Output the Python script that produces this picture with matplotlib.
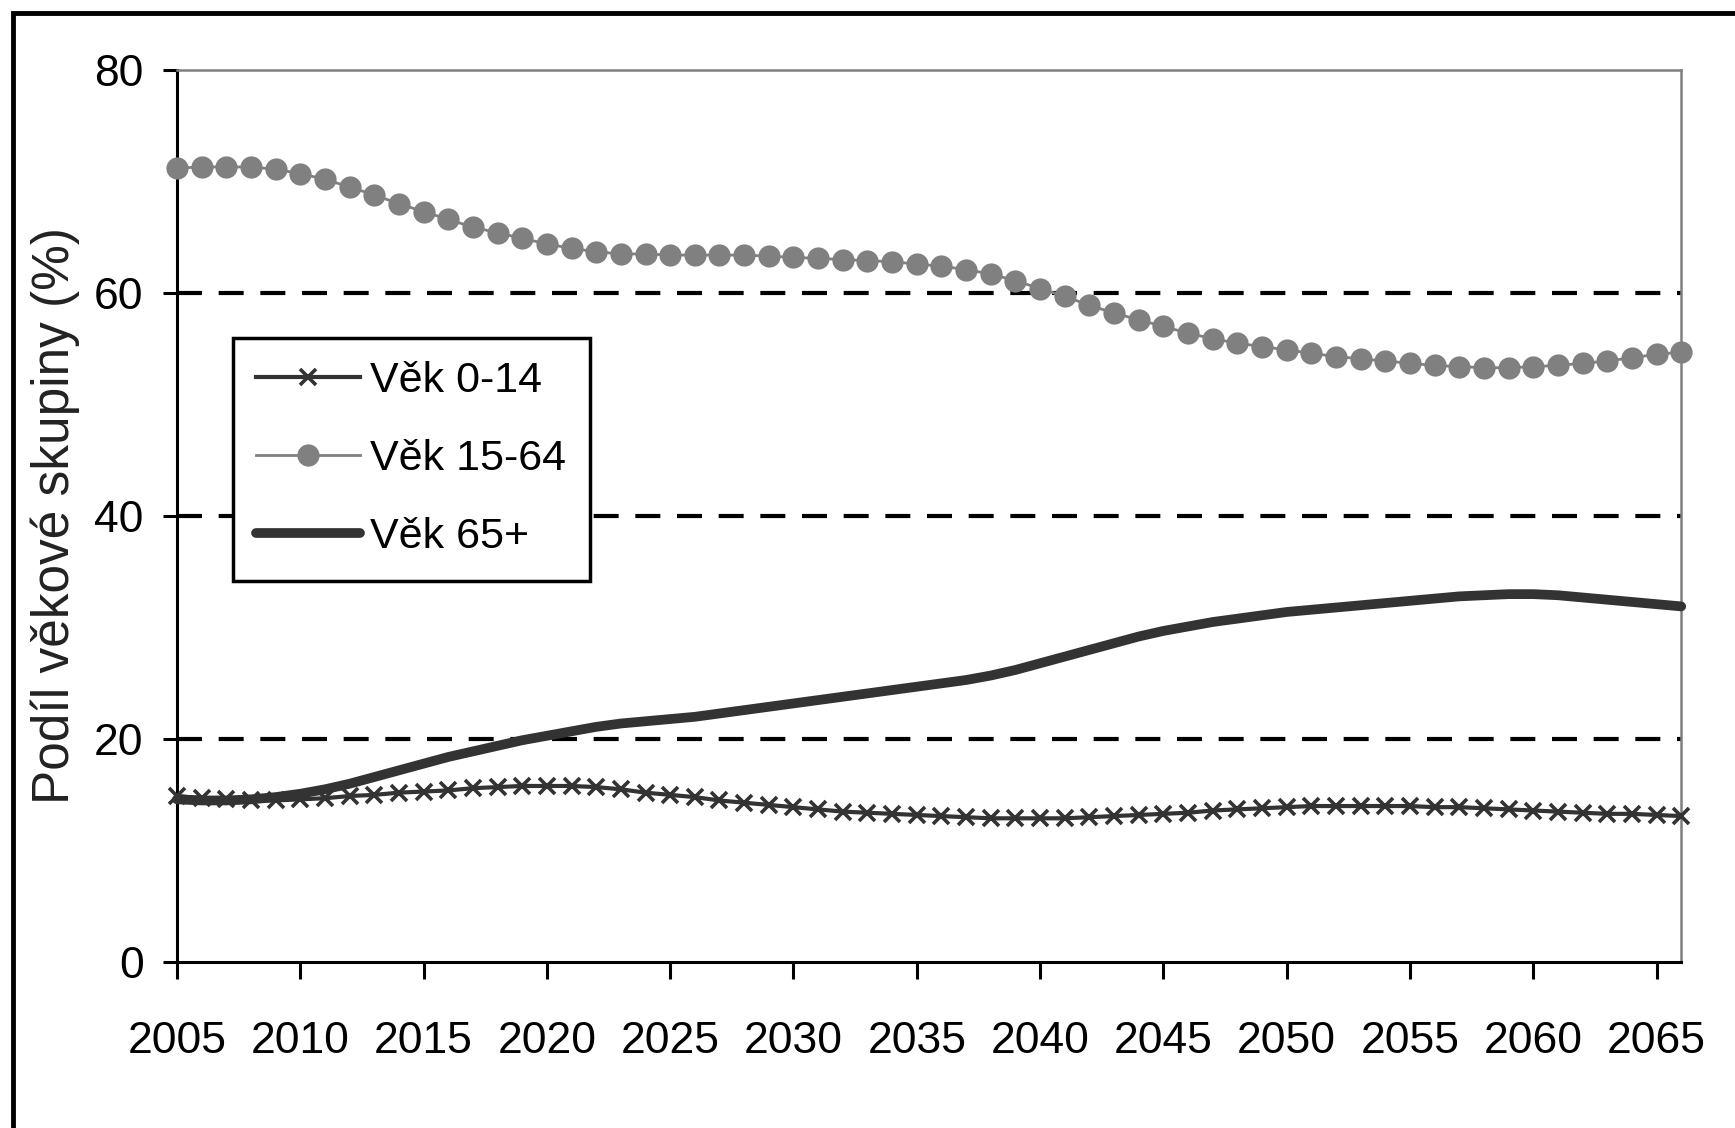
import matplotlib.pyplot as plt
from matplotlib import font_manager
from matplotlib.patches import Rectangle

# === Data ===
years = list(range(2005, 2067))

age_0_14 = [14.9, 14.7, 14.6, 14.5, 14.5,
            14.6, 14.7, 14.9, 15.0, 15.2,
            15.3, 15.4, 15.6, 15.7, 15.8,
            15.8, 15.8, 15.7, 15.5, 15.2,
            15.0, 14.8, 14.5, 14.3, 14.1,
            13.9, 13.7, 13.5, 13.4, 13.3,
            13.2, 13.1, 13.0, 12.9, 12.9,
            12.9, 12.9, 13.0, 13.1, 13.2,
            13.3, 13.4, 13.6, 13.7, 13.8,
            13.9, 14.0, 14.0, 14.0, 14.0,
            14.0, 13.9, 13.9, 13.8, 13.7,
            13.6, 13.5, 13.4, 13.3, 13.3,
            13.2, 13.1]

age_15_64 = [71.2, 71.3, 71.3, 71.3, 71.1,
             70.7, 70.2, 69.5, 68.8, 68.0,
             67.3, 66.6, 65.9, 65.4, 64.9,
             64.4, 64.0, 63.7, 63.5, 63.5,
             63.4, 63.4, 63.4, 63.4, 63.3,
             63.2, 63.1, 63.0, 62.9, 62.8,
             62.6, 62.4, 62.1, 61.7, 61.1,
             60.4, 59.7, 58.9, 58.2, 57.6,
             57.0, 56.4, 55.9, 55.5, 55.2,
             54.9, 54.6, 54.3, 54.1, 53.9,
             53.7, 53.5, 53.4, 53.3, 53.3,
             53.4, 53.5, 53.7, 53.9, 54.2,
             54.5, 54.7]

age_65_plus = [14.6, 14.5, 14.5, 14.6, 14.8,
               15.1, 15.5, 16.0, 16.6, 17.2,
               17.8, 18.4, 18.9, 19.4, 19.9,
               20.3, 20.7, 21.1, 21.4, 21.6,
               21.8, 22.0, 22.3, 22.6, 22.9,
               23.2, 23.5, 23.8, 24.1, 24.4,
               24.7, 25.0, 25.3, 25.7, 26.2,
               26.8, 27.4, 28.0, 28.6, 29.2,
               29.7, 30.1, 30.5, 30.8, 31.1,
               31.4, 31.6, 31.8, 32.0, 32.2,
               32.4, 32.6, 32.8, 32.9, 33.0,
               33.0, 32.9, 32.7, 32.5, 32.3,
               32.1, 31.9]

labels = ['Věk 0-14', 'Věk 15-64', 'Věk 65+']
x_ticks = list(range(2005, 2070, 5))
y_ticks = [0, 20, 40, 60, 80]
grid_levels = [20, 40, 60]

# === Font ===
names = {f.name for f in font_manager.fontManager.ttflist}
font = 'Liberation Sans Narrow' if 'Liberation Sans Narrow' in names else 'Liberation Sans'
plt.rcParams['font.family'] = [font, 'DejaVu Sans']
fs = 32

# === Plot ===
fig = plt.figure(figsize=(17.35, 11.28), dpi=100)
ax = fig.add_axes([0.102, 0.147, 0.867, 0.791])

for g in grid_levels:
    ax.axhline(g, color='black', lw=3.0, ls=(0, (6, 4)), zorder=1)

ax.plot(years, age_0_14, color='#333333', lw=3.0, marker='x', markersize=12,
        markeredgewidth=2.6, label=labels[0], clip_on=False, zorder=3)
ax.plot(years, age_15_64, color='#808080', lw=2.0, marker='o', markersize=16,
        markeredgewidth=0, label=labels[1], clip_on=False, zorder=3)
ax.plot(years, age_65_plus, color='#333333', lw=7.0, solid_capstyle='round',
        label=labels[2], clip_on=False, zorder=4)

ax.set_xlim(2005, 2066)
ax.set_ylim(0, 80)
ax.set_xticks(x_ticks)
ax.set_yticks(y_ticks)

for side in ['left', 'bottom']:
    ax.spines[side].set_color('black')
    ax.spines[side].set_linewidth(2.2)
for side in ['top', 'right']:
    ax.spines[side].set_color('#808080')
    ax.spines[side].set_linewidth(1.8)

ax.tick_params(axis='y', direction='out', length=10, width=2.2, pad=14, labelsize=fs)
ax.tick_params(axis='x', direction='out', length=12, width=2.2, pad=30, labelsize=fs)

ax.set_ylabel('Podíl věkové skupiny (%)', fontsize=37, color='#222222', labelpad=10)

leg = ax.legend(loc='upper left', bbox_to_anchor=(0.037, 0.70), fontsize=31,
                frameon=True, fancybox=False, framealpha=1.0,
                handlelength=2.4, handletextpad=0.25,
                labelspacing=0.88, borderpad=0.55, borderaxespad=0)
leg.get_frame().set_edgecolor('black')
leg.get_frame().set_linewidth(2.5)
leg.set_zorder(5)

# outer frame (cropped on the right and bottom)
fig.patches.append(Rectangle((13 / 1735, -0.1), 1.2, 1.1 - 13 / 1128,
                             transform=fig.transFigure, fill=False,
                             edgecolor='black', lw=3.5))

fig.savefig('out.png', dpi=100)
